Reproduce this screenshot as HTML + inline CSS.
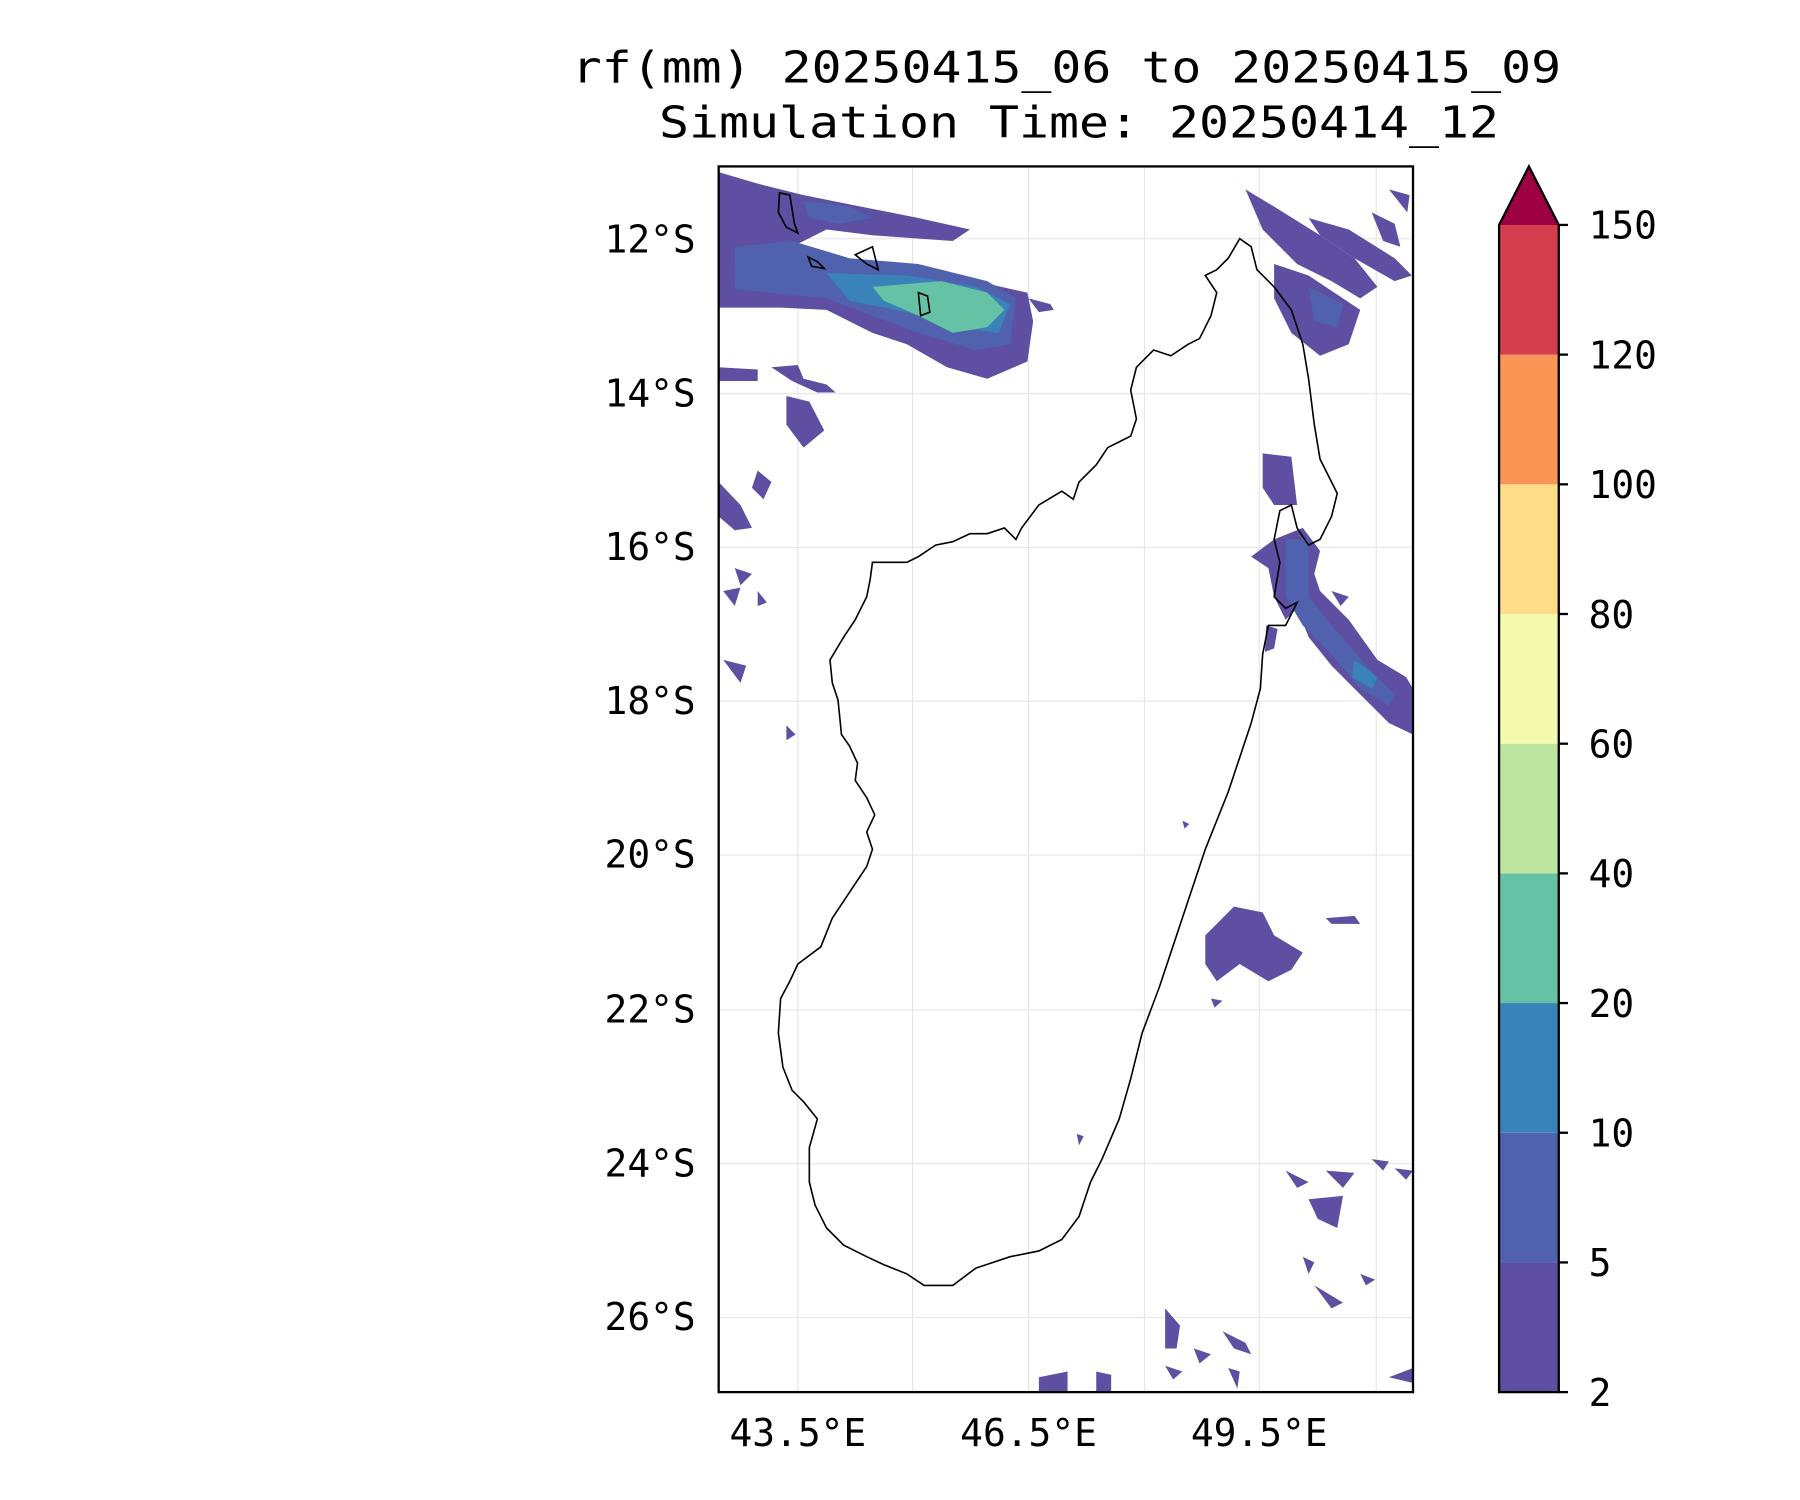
<!DOCTYPE html>
<html><head><meta charset="utf-8"><style>
html,body{margin:0;padding:0;background:#fff;}
svg{display:block;}
text{font-family:"DejaVu Sans Mono","Liberation Mono",monospace;fill:#000;}
</style></head><body>
<svg width="1800" height="1500" viewBox="0 0 1568 1307" xmlns="http://www.w3.org/2000/svg">
<defs><clipPath id="c"><rect x="626" y="145" width="605" height="1068"/></clipPath></defs>
<text x="929" y="72" font-size="38" text-anchor="middle" textLength="862" lengthAdjust="spacingAndGlyphs">rf(mm) 20250415_06 to 20250415_09</text>
<text x="940" y="120" font-size="38" text-anchor="middle" textLength="732" lengthAdjust="spacingAndGlyphs">Simulation Time: 20250414_12</text>
<g stroke="#e6e6e6" stroke-width="1">
<line x1="695" y1="145" x2="695" y2="1213"/><line x1="795" y1="145" x2="795" y2="1213"/><line x1="896" y1="145" x2="896" y2="1213"/><line x1="997" y1="145" x2="997" y2="1213"/><line x1="1097" y1="145" x2="1097" y2="1213"/><line x1="1199" y1="145" x2="1199" y2="1213"/>
<line x1="626" y1="208" x2="1231" y2="208"/><line x1="626" y1="343" x2="1231" y2="343"/><line x1="626" y1="477" x2="1231" y2="477"/><line x1="626" y1="611" x2="1231" y2="611"/><line x1="626" y1="745" x2="1231" y2="745"/><line x1="626" y1="880" x2="1231" y2="880"/><line x1="626" y1="1014" x2="1231" y2="1014"/><line x1="626" y1="1148" x2="1231" y2="1148"/>
</g>
<g clip-path="url(#c)">
<g fill="#5e4fa2">
<path d="M626,150 L660,160 L700,170 L750,180 L800,190 L845,200 L830,210 L760,205 L720,200 L690,215 L680,240 L740,245 L790,235 L850,245 L895,255 L900,280 L895,315 L860,330 L825,320 L790,300 L760,290 L720,270 L680,268 L626,268 Z"/>
<path d="M626,195 L660,185 L690,195 L700,225 L660,230 L626,240 Z"/>
<path d="M626,320 L660,322 L660,332 L626,332 Z"/>
<path d="M685,345 L705,350 L718,375 L700,390 L685,370 Z"/>
<path d="M672,320 L695,318 L700,330 L720,335 L728,342 L712,342 L690,332 Z"/>
<path d="M660,410 L672,420 L665,435 L655,425 Z"/><path d="M626,420 L645,440 L655,460 L640,462 L626,450 Z"/>
<path d="M640,495 L655,500 L645,510 Z"/><path d="M630,515 L645,512 L640,528 Z"/><path d="M660,515 L668,525 L660,528 Z"/>
<path d="M630,575 L650,580 L645,595 Z"/><path d="M685,632 L693,640 L685,645 Z"/>
<path d="M896,260 L915,265 L918,270 L905,272 Z"/>
<path d="M1085,165 L1110,180 L1150,205 L1180,225 L1200,250 L1185,260 L1160,245 L1130,230 L1100,200 Z"/>
<path d="M1110,230 L1140,240 L1185,270 L1175,300 L1150,310 L1125,290 L1110,260 Z"/>
<path d="M1140,190 L1175,200 L1215,225 L1230,240 L1215,245 L1180,225 L1150,205 Z"/>
<path d="M1195,185 L1215,195 L1220,215 L1205,210 Z"/><path d="M1210,165 L1228,170 L1226,185 Z"/>
<path d="M1100,395 L1125,398 L1130,440 L1110,440 L1100,425 Z"/>
<path d="M1090,485 L1110,470 L1135,460 L1150,480 L1145,500 L1150,515 L1175,540 L1200,575 L1225,590 L1231,600 L1231,640 L1210,630 L1185,605 L1160,580 L1140,555 L1130,530 L1120,540 L1110,520 L1105,495 Z"/>
<path d="M1103,545 L1113,548 L1110,565 L1102,568 Z"/><path d="M1160,515 L1175,520 L1168,528 Z"/>
<path d="M1050,815 L1075,790 L1100,795 L1110,815 L1135,830 L1125,845 L1105,855 L1080,840 L1060,855 L1050,840 Z"/>
<path d="M1155,800 L1180,798 L1185,805 L1160,805 Z"/><path d="M1055,870 L1065,872 L1058,878 Z"/>
<path d="M1120,1020 L1140,1030 L1130,1035 Z"/><path d="M1155,1020 L1180,1022 L1170,1035 Z"/><path d="M1140,1045 L1170,1042 L1165,1070 L1148,1062 Z"/>
<path d="M1135,1095 L1145,1100 L1140,1110 Z"/><path d="M1145,1120 L1170,1135 L1160,1140 Z"/><path d="M1185,1110 L1198,1115 L1190,1120 Z"/>
<path d="M1015,1140 L1028,1155 L1025,1175 L1015,1175 Z"/><path d="M1040,1175 L1055,1180 L1045,1188 Z"/><path d="M1065,1160 L1085,1170 L1090,1180 L1075,1175 Z"/>
<path d="M1015,1190 L1030,1195 L1022,1202 Z"/><path d="M1070,1192 L1080,1195 L1078,1210 Z"/>
<path d="M905,1200 L930,1195 L930,1213 L905,1213 Z"/><path d="M955,1195 L968,1198 L968,1213 L955,1213 Z"/>
<path d="M1210,1200 L1231,1192 L1231,1205 Z"/><path d="M1195,1010 L1210,1012 L1205,1020 Z"/><path d="M1215,1018 L1231,1020 L1225,1028 Z"/>
<path d="M938,988 L944,990 L940,998 Z"/><path d="M1030,715 L1036,718 L1032,722 Z"/>
</g>
<g fill="#5062ae">
<path d="M640,215 L690,210 L740,225 L800,230 L860,245 L885,260 L880,300 L850,305 L800,290 L760,275 L720,260 L640,252 Z"/>
<path d="M700,175 L740,180 L760,190 L730,195 L705,190 Z"/>
<path d="M1120,470 L1140,470 L1140,520 L1160,545 L1195,585 L1215,605 L1210,615 L1185,600 L1160,570 L1135,545 L1120,520 Z"/>
<path d="M1140,250 L1170,265 L1165,285 L1145,280 Z"/>
</g>
<g fill="#3a83b9">
<path d="M720,238 L790,240 L850,250 L880,265 L870,290 L830,285 L790,272 L740,262 Z"/>
<path d="M1180,575 L1200,590 L1195,600 L1178,590 Z"/>
</g>
<path fill="#66c2a5" d="M760,250 L820,245 L860,255 L875,270 L860,285 L830,290 L800,275 L770,262 Z"/>
</g>
<path fill="none" stroke="#000" stroke-width="1.4" d="M1080,208 L1090,215 L1095,235 L1110,250 L1125,270 L1135,300 L1140,330 L1145,370 L1150,400 L1160,420 L1165,430 L1160,450 L1150,470 L1140,475 L1130,460 L1125,440 L1115,445 L1110,470 L1115,490 L1110,520 L1120,530 L1130,525 L1120,545 L1105,545 L1100,570 L1098,600 L1090,630 L1080,660 L1070,690 L1060,715 L1050,740 L1040,770 L1030,800 L1020,830 L1010,860 L995,900 L985,940 L975,975 L960,1010 L950,1030 L940,1060 L925,1080 L905,1090 L880,1095 L850,1105 L830,1120 L805,1120 L790,1110 L770,1102 L755,1095 L735,1085 L720,1070 L710,1050 L705,1030 L705,1000 L712,975 L700,960 L690,950 L682,930 L678,900 L680,870 L688,855 L695,840 L715,825 L725,800 L735,785 L745,770 L755,755 L760,740 L755,725 L762,710 L755,695 L745,680 L747,665 L740,650 L733,640 L730,610 L725,595 L723,575 L735,555 L745,540 L755,520 L758,505 L760,490 L790,490 L800,485 L815,475 L830,472 L845,465 L860,465 L875,460 L885,470 L890,460 L905,440 L925,428 L935,435 L940,420 L955,405 L965,390 L975,385 L985,380 L990,365 L985,340 L990,320 L1005,305 L1020,310 L1035,300 L1045,295 L1055,275 L1060,255 L1050,240 L1060,235 L1070,225 Z"/>
<g fill="none" stroke="#000" stroke-width="1.4">
<path d="M679,168 L688,170 L692,195 L695,203 L685,198 L678,185 Z"/>
<path d="M704,224 L712,228 L718,234 L707,232 Z"/>
<path d="M745,222 L760,215 L765,235 L755,230 Z"/>
<path d="M800,255 L808,258 L810,272 L802,275 Z"/>
</g>
<rect x="626" y="145" width="605" height="1068" fill="none" stroke="#000" stroke-width="2"/>
<g font-size="33" text-anchor="end">
<text x="606" y="220">12°S</text><text x="606" y="354">14°S</text><text x="606" y="488">16°S</text><text x="606" y="622">18°S</text><text x="606" y="756">20°S</text><text x="606" y="891">22°S</text><text x="606" y="1025">24°S</text><text x="606" y="1159">26°S</text>
</g>
<g font-size="33" text-anchor="middle">
<text x="695" y="1260">43.5°E</text><text x="896" y="1260">46.5°E</text><text x="1097" y="1260">49.5°E</text>
</g>
<rect x="1306" y="1100" width="52" height="113" fill="#5e4fa2"/>
<rect x="1306" y="987" width="52" height="113" fill="#5062ae"/>
<rect x="1306" y="874" width="52" height="113" fill="#3a83b9"/>
<rect x="1306" y="761" width="52" height="113" fill="#66c2a5"/>
<rect x="1306" y="648" width="52" height="113" fill="#bee5a0"/>
<rect x="1306" y="535" width="52" height="113" fill="#f3faad"/>
<rect x="1306" y="422" width="52" height="113" fill="#fddd88"/>
<rect x="1306" y="309" width="52" height="113" fill="#f99656"/>
<rect x="1306" y="196" width="52" height="113" fill="#d53e4f"/>
<path d="M1306,196 L1332,145 L1358,196 Z" fill="#9e0142"/>
<path d="M1306,1213 L1306,196 L1332,145 L1358,196 L1358,1213 Z" fill="none" stroke="#000" stroke-width="2"/>
<g stroke="#000" stroke-width="2">
<line x1="1358" y1="196" x2="1366" y2="196"/><line x1="1358" y1="309" x2="1366" y2="309"/><line x1="1358" y1="422" x2="1366" y2="422"/><line x1="1358" y1="535" x2="1366" y2="535"/><line x1="1358" y1="648" x2="1366" y2="648"/><line x1="1358" y1="761" x2="1366" y2="761"/><line x1="1358" y1="874" x2="1366" y2="874"/><line x1="1358" y1="987" x2="1366" y2="987"/><line x1="1358" y1="1100" x2="1366" y2="1100"/><line x1="1358" y1="1213" x2="1366" y2="1213"/>
</g>
<g font-size="33">
<text x="1384" y="208">150</text><text x="1384" y="321">120</text><text x="1384" y="434">100</text><text x="1384" y="547">80</text><text x="1384" y="660">60</text><text x="1384" y="773">40</text><text x="1384" y="886">20</text><text x="1384" y="999">10</text><text x="1384" y="1112">5</text><text x="1384" y="1225">2</text>
</g>
</svg>
</body></html>
